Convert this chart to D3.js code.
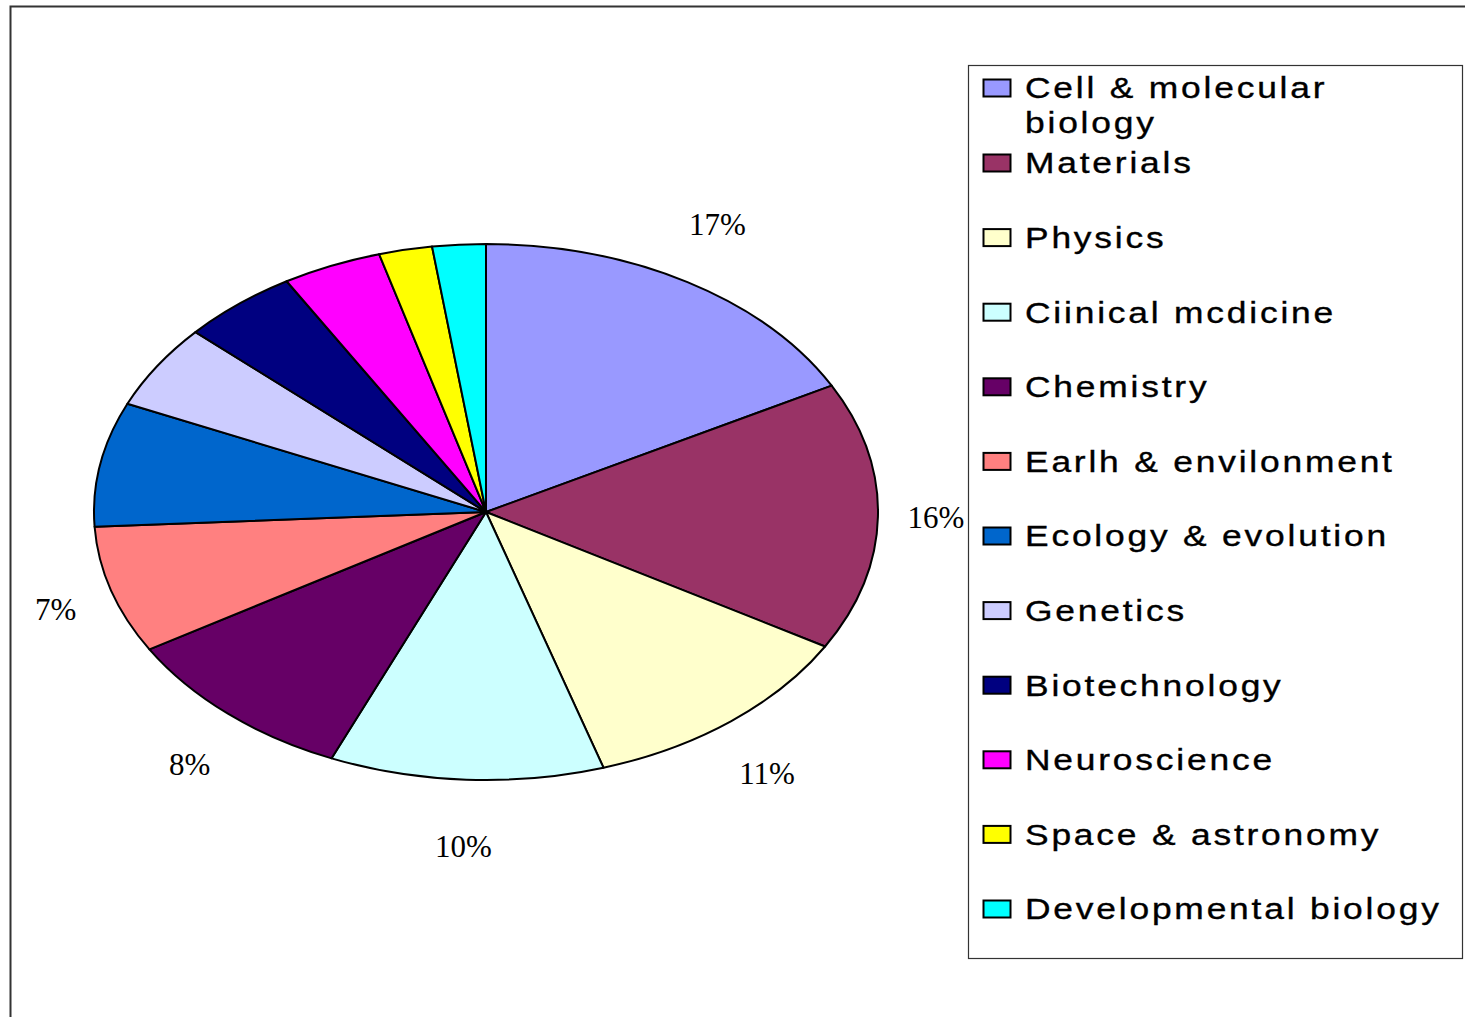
<!DOCTYPE html>
<html>
<head>
<meta charset="utf-8">
<script src="https://cdn.jsdelivr.net/npm/d3@7"></script>
<style>
  html, body { margin: 0; padding: 0; background: #fff; overflow: hidden; }
</style>
</head>
<body>
<script>
// data
const categories = [
    'Cell & molecular biology', 'Materials', 'Physics', 'Ciinical mcdicine',
    'Chemistry', 'Earlh & envilonment', 'Ecology & evolution', 'Genetics',
    'Biotechnology', 'Neuroscience', 'Space & astronomy', 'Developmental biology'
]
const values = [17.2, 16.2, 11.8, 11.3, 10.0, 7.7, 7.5, 5.1, 4.8, 4.1, 2.2, 2.2]
const labels = ['17%', '16%', '11%', '10%', '8%', '7%', '', '', '', '', '', '']
const colors = [
    '#9999FF', '#993366', '#FFFFCC', '#CCFFFF', '#660066', '#FF8080',
    '#0066CC', '#CCCCFF', '#000080', '#FF00FF', '#FFFF00', '#00FFFF'
]

const W = 1465, H = 1017
const cx = 486, cy = 512, rx = 392, ry = 268
const R = 100

const svg = d3.select('body').append('svg')
    .attr('width', W)
    .attr('height', H)

// outer chart frame
svg.append('rect')
    .attr('x', 10.5).attr('y', 6.5)
    .attr('width', W + 10).attr('height', H + 10)
    .attr('fill', '#fff')
    .attr('stroke', '#333')
    .attr('stroke-width', 2)

const pie = d3.pie().sort(null).value(d => d)
const arcs = pie(values)
const arc = d3.arc().innerRadius(0).outerRadius(R)

// pie drawn as a circle, then stretched into an ellipse
const g = svg.append('g')
    .attr('transform', `translate(${cx},${cy}) scale(${rx / R},${ry / R})`)

g.selectAll('path')
    .data(arcs)
    .join('path')
    .attr('d', arc)
    .attr('fill', (d, i) => colors[i])
    .attr('stroke', '#000')
    .attr('stroke-width', 2)
    .attr('stroke-linejoin', 'round')
    .attr('vector-effect', 'non-scaling-stroke')

// percent labels
const lx = rx + 58, ly = ry + 67
svg.append('g').selectAll('text')
    .data(arcs.filter((d, i) => labels[i]))
    .join('text')
    .attr('x', d => {
        const a = (d.startAngle + d.endAngle) / 2
        return cx + lx * Math.sin(a)
    })
    .attr('y', d => {
        const a = (d.startAngle + d.endAngle) / 2
        return cy - ly * Math.cos(a)
    })
    .attr('text-anchor', 'middle')
    .attr('dominant-baseline', 'central')
    .attr('font-family', '"Liberation Serif", "Times New Roman", serif')
    .attr('font-size', 31)
    .attr('fill', '#000')
    .text(d => labels[d.index])

// legend
const legend = svg.append('g')
legend.append('rect')
    .attr('x', 968.5).attr('y', 65.5)
    .attr('width', 494).attr('height', 893)
    .attr('fill', '#fff')
    .attr('stroke', '#333')
    .attr('stroke-width', 1.2)

const rowY = d3.scaleLinear().domain([0, 1]).range([163, 163 + 74.6])

const items = legend.selectAll('g.item')
    .data(categories)
    .join('g')
    .attr('class', 'item')
    .attr('transform', (d, i) => `translate(0,${i === 0 ? 88 : rowY(i - 1)})`)

items.append('rect')
    .attr('x', 983.5).attr('y', -8.5)
    .attr('width', 27).attr('height', 17)
    .attr('fill', (d, i) => colors[i])
    .attr('stroke', '#000')
    .attr('stroke-width', 2)

// legend font is a wide sans, so stretch it a little
const txt = items.append('text')
    .attr('transform', 'translate(1025,0) scale(1.22,1)')
    .attr('font-family', '"Liberation Sans", Arial, sans-serif')
    .attr('font-size', 29)
    .attr('letter-spacing', 2.3)
    .attr('fill', '#000')
    .attr('stroke', '#000')
    .attr('stroke-width', 0.35)

txt.each(function (d, i) {
    const t = d3.select(this)
    const lines = i === 0 ? ['Cell & molecular', 'biology'] : [d]
    lines.forEach((s, j) => {
        t.append('tspan')
            .attr('x', 0)
            .attr('y', j * 35)
            .attr('dy', '0.36em')
            .text(s)
    })
})
</script>
</body>
</html>
